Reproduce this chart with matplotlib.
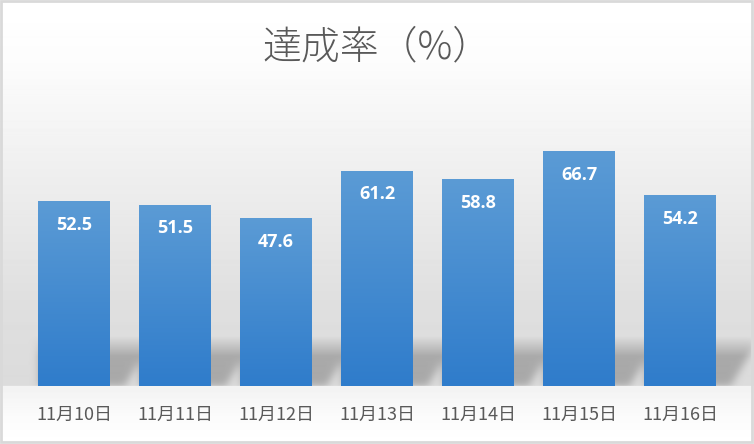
import matplotlib.pyplot as plt
import numpy as np
from matplotlib.patches import Rectangle
from matplotlib.colors import LinearSegmentedColormap

plt.rcParams['font.family'] = ['Noto Sans CJK JP', 'DejaVu Sans']

dates = ['11月10日', '11月11日', '11月12日', '11月13日', '11月14日', '11月15日', '11月16日']
rates = [52.5, 51.5, 47.6, 61.2, 58.8, 66.7, 54.2]

W, H = 754, 444
fig = plt.figure(figsize=(W / 100, H / 100), dpi=100)

ax = fig.add_axes([23.5 / W, 58 / H, 707 / W, 245.6 / H], zorder=1)
ax.patch.set_alpha(0)
x = np.arange(len(dates))
width = 0.71
ax.set_xlim(-0.5, len(x) - 0.5)
ax.set_ylim(0, 70)

# background (pixel image): grey gradient, floor band and soft bar shadows
rows = np.arange(H)[:, None].astype(float)
floor = H - ax.transData.transform((0, 0))[1]
prof = np.interp(rows[:, 0], [0, 60, 300, floor - 1, floor, floor + 30, H],
                 [1.0, 0.99, 0.875, 0.86, 0.95, 0.985, 1.0])
img = np.repeat(prof[:, None], W, axis=1)

mask = np.zeros((H, W))
cols = np.arange(W)[None, :]
for i in range(len(x)):
    left = ax.transData.transform((x[i] - width / 2, 0))[0]
    right = ax.transData.transform((x[i] + width / 2, 0))[0]
    reach = right + 14 + (floor - rows) * 0.6
    m = (cols >= left) & (cols <= reach) & (rows >= floor - 55) & (rows < floor)
    mask = np.maximum(mask, m.astype(float))

# simple separable blur
k = np.exp(-0.5 * (np.arange(-10, 11) / 4.0) ** 2)
k /= k.sum()
mask = np.apply_along_axis(lambda r: np.convolve(r, k, mode='same'), 1, mask)
mask = np.apply_along_axis(lambda c: np.convolve(c, k, mode='same'), 0, mask)
fade = np.clip((rows - (floor - 50)) / 20.0, 0, 1)
mask = mask * fade * (rows < floor)
img = img - 0.2 * mask

bg = fig.add_axes([0, 0, 1, 1], zorder=0)
bg.set_axis_off()
bg.imshow(img, cmap='gray', vmin=0, vmax=1, aspect='auto',
          extent=[0, W, H, 0], interpolation='bilinear')
bg.set_xlim(0, W)
bg.set_ylim(H, 0)
bg.add_patch(Rectangle((1, 1), W - 3, H - 3, fill=False, ec='#d9d9d9', lw=2))

bars = ax.bar(x, rates, width, color='#4a8fd6', zorder=2)

# vertical gradient inside each bar
grad = np.linspace(0, 1, 256)[:, None]
cmap = LinearSegmentedColormap.from_list('b', ['#2f7ccb', '#5b9bd5'])
for b in bars:
    x0, w, h = b.get_x(), b.get_width(), b.get_height()
    ax.imshow(grad, cmap=cmap, aspect='auto', origin='lower',
              extent=[x0, x0 + w, 0, h], zorder=3)

for i, v in enumerate(rates):
    ax.annotate('{}'.format(v), xy=(x[i], v), xytext=(0, -23), textcoords='offset pixels',
                ha='center', va='center', color='white', fontsize=13, fontweight='bold',
                family=['Open Sans', 'DejaVu Sans'], zorder=4)

ax.set_xticks(x)
ax.set_xticklabels(dates, fontsize=13, color='#595959')
ax.tick_params(axis='x', length=0, pad=14)
ax.set_yticks([])
for s in ax.spines.values():
    s.set_visible(False)

fig.text(377 / W, 1 - 48 / H, '達成率（%）', ha='center', va='center',
         fontsize=28, color='#595959', fontweight='light')

plt.savefig('out.png', dpi=100)
